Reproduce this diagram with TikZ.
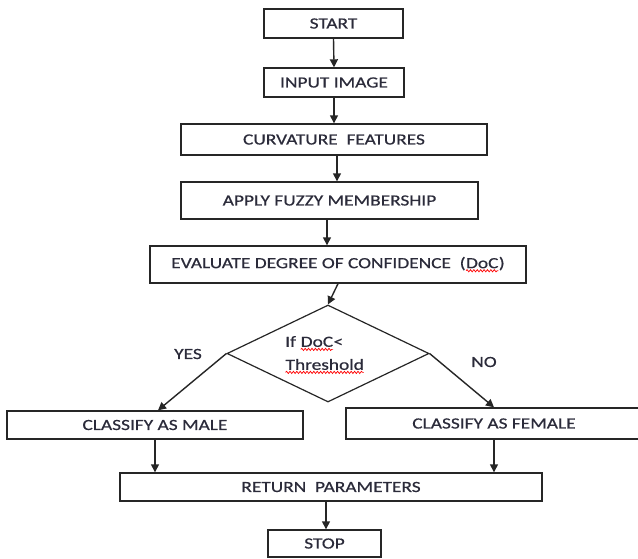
\documentclass[tikz,border=0pt]{standalone}
\usepackage{fontspec}
\setmainfont[FakeStretch=1.25,FakeBold=0.6]{Carlito}
\usetikzlibrary{arrows.meta,shapes.geometric,decorations.pathmorphing}
\definecolor{ink}{HTML}{2B2B3A}
\definecolor{edge}{HTML}{262626}
\newcommand\wavy[1]{\tikz[baseline=(wv.base)]{\node[inner sep=0pt,outer sep=0pt,minimum width=0pt,minimum height=0pt,draw=none,fill=none,anchor=center,shape=rectangle] (wv) {#1};\draw[red,line width=0.7pt,decorate,decoration={snake,amplitude=1.1pt,segment length=3.4pt}] ([yshift=-2.6pt]wv.base west) -- ([yshift=-2.6pt]wv.base east);}}
\tikzset{
  box/.style={draw=edge,line width=1.4pt,fill=white,inner sep=0pt,text=ink,font=\fontsize{15.5}{23}\selectfont},
  arr/.style={draw=edge,line width=1.4pt,-{Triangle[length=8pt,width=8pt]}},
  lbl/.style={inner sep=0pt,text=ink,font=\fontsize{15.5}{23}\selectfont}
}
\begin{document}
\begin{tikzpicture}[x=1pt,y=-1pt]
\useasboundingbox (0,0) rectangle (638,558);
\clip (0,0) rectangle (638,558);
\fill[white] (0,0) rectangle (638,558);
% boxes
\node[box,minimum width=139pt,minimum height=29pt] (start) at (333.5,23.5) {START};
\node[box,minimum width=140pt,minimum height=29pt] (input) at (334,82.5) {INPUT IMAGE};
\node[box,minimum width=306pt,minimum height=31pt] (curv) at (334,139.5) {CURVATURE\ \ FEATURES};
\node[box,minimum width=297pt,minimum height=37pt] (apply) at (329.5,200.5) {APPLY FUZZY MEMBERSHIP};
\node[box,minimum width=376pt,minimum height=37pt] (eval) at (338,264.5) {EVALUATE DEGREE OF CONFIDENCE\ \ (\wavy{DoC})};
\node[draw=edge,line width=1.2pt,shape=diamond,minimum width=202pt,minimum height=97pt,inner sep=0pt,fill=white] (dia) at (328,353.5) {};
\node[lbl,align=left,anchor=west] (dtext) at (285,355) {If \wavy{DoC}<\\\wavy{Threshold}};
\node[box,minimum width=296pt,minimum height=28pt] (male) at (155,425) {CLASSIFY AS MALE};
\node[box,minimum width=296pt,minimum height=31pt] (female) at (494,423.5) {CLASSIFY AS FEMALE};
\node[box,minimum width=422pt,minimum height=28pt] (ret) at (331,487) {RETURN\ \ PARAMETERS};
\node[box,minimum width=113pt,minimum height=27pt] (stop) at (324.5,543.5) {STOP};
% labels
\node[lbl] (yes) at (188,354) {YES};
\node[lbl] (no) at (484,362) {NO};
% arrows
\draw[arr] (start.south) -- (input.north);
\draw[arr] (input.south) -- (curv.north);
\draw[arr] ([xshift=3pt]curv.south) -- ([xshift=3pt]curv.south |- apply.north);
\draw[arr] ([xshift=-2.5pt]apply.south) -- ([xshift=-2.5pt]apply.south |- eval.north);
\draw[arr] (eval.south) -- (dia.north);
\draw[arr] (dia.west) -- ([xshift=3pt]male.north);
\draw[arr] (dia.east) -- ([yshift=0pt]female.north);
\draw[arr] (male.south) -- (male.south |- ret.north);
\draw[arr] (female.south) -- (female.south |- ret.north);
\draw[arr] ([xshift=1.5pt]stop.north |- ret.south) -- ([xshift=1.5pt]stop.north);
\end{tikzpicture}
\end{document}
